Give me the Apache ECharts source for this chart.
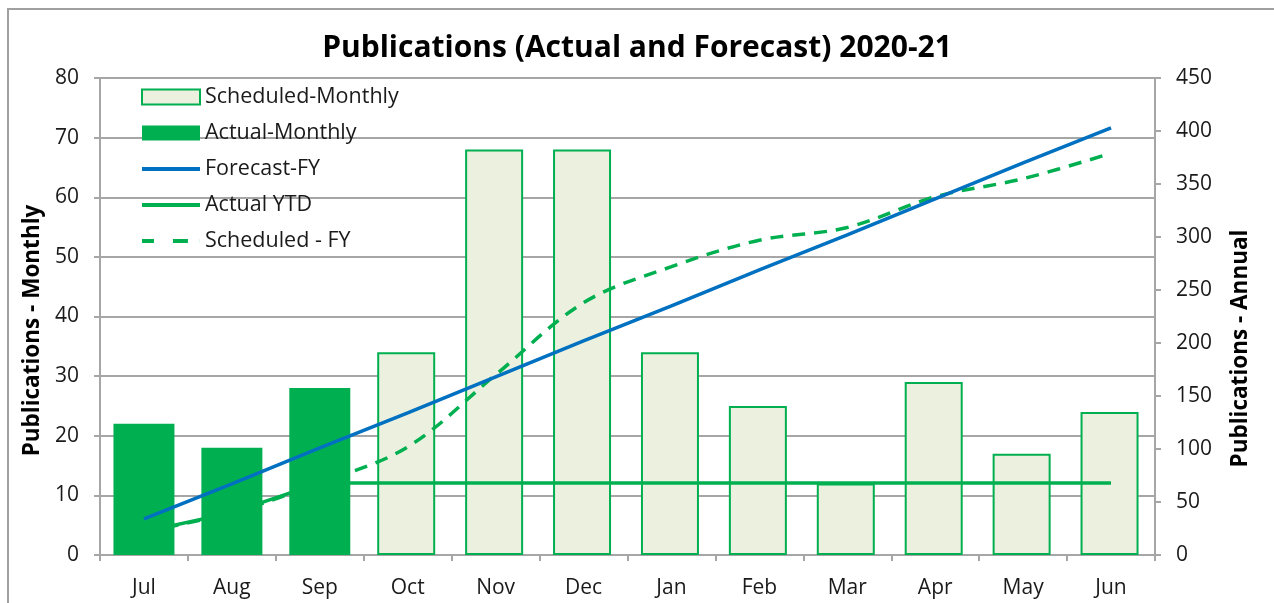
<!DOCTYPE html>
<html>
<head>
<meta charset="utf-8">
<script src="https://cdn.jsdelivr.net/npm/echarts@6/dist/echarts.min.js"></script>
<style>
  html, body { margin: 0; padding: 0; background: #fff; }
  #chart { width: 1274px; height: 603px; }
</style>
</head>
<body>
<div id="chart"></div>
<script>
const months = ['Jul', 'Aug', 'Sep', 'Oct', 'Nov', 'Dec', 'Jan', 'Feb', 'Mar', 'Apr', 'May', 'Jun']
// monthly (left axis)
const scheduledMonthly = ['-', '-', '-', 34, 68, 68, 34, 25, 12, 29, 17, 24]
const actualMonthly = [22, 18, 28, '-', '-', '-', '-', '-', '-', '-', '-', '-']
// annual / cumulative (right axis)
const forecastFY = [34, 67, 101, 134, 168, 202, 235, 269, 302, 336, 370, 403]
const actualYTD = [22, 40, 68, 68, 68, 68, 68, 68, 68, 68, 68, 68]
const scheduledFY = [22, 40, 68, 102, 170, 238, 272, 297, 309, 338, 355, 379]

const FONT = '"Open Sans", sans-serif'
const GREEN = '#00B050'
const BLUE = '#0070C0'
const GRID = '#a6a6a6'
const TXT = '#1a1a1a'

// legend icons for the line series (plain line / dashed line)
const LINE_ICON = 'path://M0,0H58V4H0Z'
const DASH_ICON = 'path://M0,0H12V4H0Z M31,0H46V4H31Z M58,0H58.1V4H58Z'

const chart = echarts.init(document.getElementById('chart'))

const option = {
  animation: false,
  textStyle: { fontFamily: FONT },
  graphic: [{
    type: 'rect',
    shape: { x: 8, y: 9, width: 1400, height: 800 },
    style: { fill: 'none', stroke: '#a0a0a0', lineWidth: 2 },
    silent: true
  }],
  title: {
    text: 'Publications (Actual and Forecast) 2020-21',
    left: 'center',
    top: 28,
    textStyle: { fontFamily: FONT, fontSize: 30, fontWeight: 'bold', color: '#000' }
  },
  legend: {
    orient: 'vertical',
    left: 136,
    top: 81,
    itemWidth: 58,
    itemHeight: 15,
    itemGap: 14,
    textStyle: { fontFamily: FONT, fontSize: 21.5, lineHeight: 21, color: TXT, padding: [0, 0, 0, 0] },
    data: [
      { name: 'Scheduled-Monthly', icon: 'rect' },
      { name: 'Actual-Monthly', icon: 'rect' },
      { name: 'Forecast-FY', icon: LINE_ICON },
      { name: 'Actual YTD', icon: LINE_ICON },
      { name: 'Scheduled - FY', icon: DASH_ICON }
    ]
  },
  grid: { left: 100, right: 119, top: 78, bottom: 48 },
  xAxis: {
    type: 'category',
    data: months,
    boundaryGap: true,
    axisLine: { lineStyle: { color: GRID, width: 2 } },
    axisTick: { show: true, length: 6, lineStyle: { color: GRID, width: 2 } },
    axisLabel: { fontFamily: FONT, fontSize: 21, color: TXT, margin: 23 }
  },
  yAxis: [
    {
      type: 'value',
      min: 0,
      max: 80,
      interval: 10,
      name: 'Publications - Monthly',
      nameLocation: 'middle',
      nameGap: 56,
      nameRotate: 90,
      nameTextStyle: { fontFamily: FONT, fontSize: 22.5, fontWeight: 'bold', color: '#000', padding: [0, 28, 0, 0] },
      axisLine: { show: true, lineStyle: { color: GRID, width: 2 } },
      axisTick: { show: true, length: 6, lineStyle: { color: GRID, width: 2 } },
      axisLabel: { fontFamily: FONT, fontSize: 21, color: TXT, margin: 21 },
      splitLine: { lineStyle: { color: GRID, width: 2 } }
    },
    {
      type: 'value',
      min: 0,
      max: 450,
      interval: 50,
      position: 'right',
      name: 'Publications - Annual',
      nameLocation: 'middle',
      nameGap: 74,
      nameRotate: 90,
      nameTextStyle: { fontFamily: FONT, fontSize: 22.5, fontWeight: 'bold', color: '#000', padding: [0, 64, 0, 0] },
      axisLine: { show: true, lineStyle: { color: GRID, width: 2 } },
      axisTick: { show: true, length: 6, lineStyle: { color: GRID, width: 2 } },
      axisLabel: { fontFamily: FONT, fontSize: 21, color: TXT, margin: 21 },
      splitLine: { show: false }
    }
  ],
  series: [
    {
      name: 'Scheduled-Monthly',
      type: 'bar',
      yAxisIndex: 0,
      barWidth: 58,
      barGap: '-100%',
      z: 1,
      itemStyle: { color: '#EBF1DE', borderColor: GREEN, borderWidth: 2 },
      data: scheduledMonthly
    },
    {
      name: 'Actual-Monthly',
      type: 'bar',
      yAxisIndex: 0,
      barWidth: 61,
      barGap: '-100%',
      z: 5,
      itemStyle: { color: GREEN },
      data: actualMonthly
    },
    {
      name: 'Forecast-FY',
      type: 'line',
      yAxisIndex: 1,
      z: 6,
      symbol: 'none',
      lineStyle: { color: BLUE, width: 3.5 },
      itemStyle: { color: BLUE },
      data: forecastFY
    },
    {
      name: 'Actual YTD',
      type: 'line',
      yAxisIndex: 1,
      z: 3,
      symbol: 'none',
      lineStyle: { color: GREEN, width: 3.5 },
      itemStyle: { color: GREEN },
      data: actualYTD
    },
    {
      name: 'Scheduled - FY',
      type: 'line',
      yAxisIndex: 1,
      z: 2,
      symbol: 'none',
      smooth: 0.35,
      lineStyle: { color: GREEN, width: 3.5, type: [13, 9] },
      itemStyle: { color: GREEN },
      data: scheduledFY
    }
  ]
}

chart.setOption(option)
</script>
</body>
</html>
